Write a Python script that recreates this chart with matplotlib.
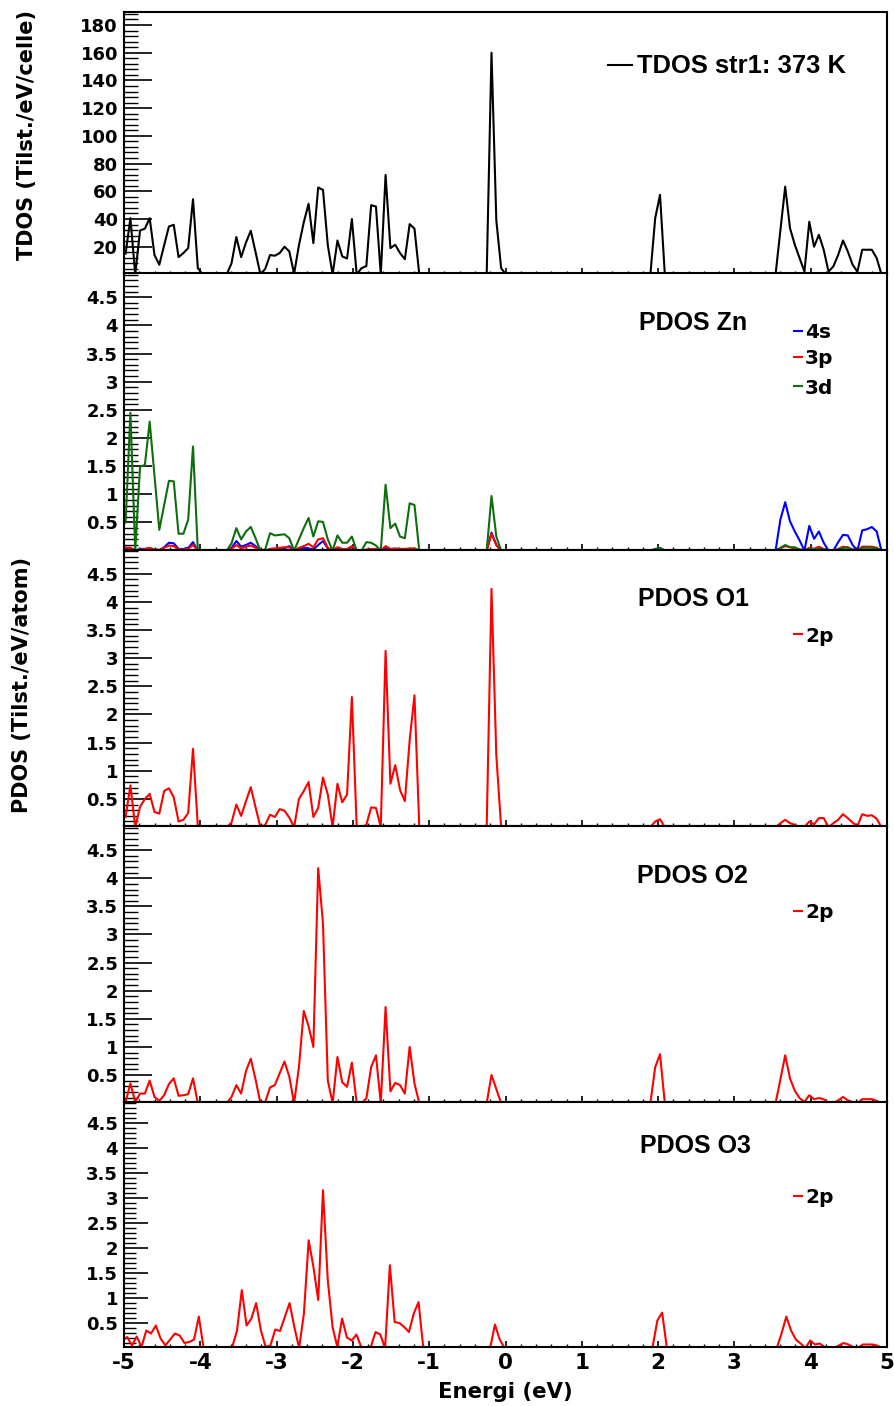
import numpy as np
import matplotlib
matplotlib.use("Agg")
import matplotlib.pyplot as plt
from matplotlib.lines import Line2D
from matplotlib.ticker import MultipleLocator, FixedLocator, FuncFormatter

plt.rcParams['axes.unicode_minus'] = False

# ---------------- data ----------------
# energy grid of the calculation (eV); O3 was written on a slightly different grid
E0_main, dE_main, n_main = -4.979, 0.0631, 158
E0_o3, dE_o3, n_o3 = -5.021, 0.0626, 161
energy = np.round(E0_main + dE_main * np.arange(n_main), 4)
energy_o3 = np.round(E0_o3 + dE_o3 * np.arange(n_o3), 4)

tdos = [15, 40.6, 0, 31.7, 33, 40.6, 14, 7, 21, 34.6,
        35.8, 12.5, 15.4, 19, 54.3, 4.6, 0, 0, 0, 0,
        0, 0, 8, 27, 12.5, 23, 31.5, 16, 0, 4,
        14, 13.5, 15.4, 20, 16.6, 0.5, 21, 37.5, 51, 22.6,
        62.7, 61, 21, 0, 24.5, 13, 11.5, 40, 0, 4.5,
        6, 50, 49, 0, 71.8, 19, 21.4, 15.4, 11, 36.3,
        33, 0, 0, 0, 0, 0, 0, 0, 0, 0,
        0, 0, 0, 0, 0, 0, 160, 39, 4.5, 0,
        0, 0, 0, 0, 0, 0, 0, 0, 0, 0,
        0, 0, 0, 0, 0, 0, 0, 0, 0, 0,
        0, 0, 0, 0, 0, 0, 0, 0, 0, 0,
        40.6, 57.4, 0, 0, 0, 0, 0, 0, 0, 0,
        0, 0, 0, 0, 0, 0, 0, 0, 0, 0,
        0, 0, 0, 0, 0, 0, 32, 63.4, 33.4, 21.4,
        11.8, 2, 38, 20, 28.6, 17.8, 2, 5.8, 14, 24.5,
        16.6, 7, 2, 17.8, 17.8, 17.8, 11.8, 0]

zn_4s = [0.05, 0.05, 0, 0.03, 0.03, 0.04, 0.02, 0.01, 0.06, 0.14,
         0.13, 0.03, 0.03, 0.05, 0.15, 0, 0, 0, 0, 0,
         0, 0, 0.05, 0.17, 0.07, 0.1, 0.14, 0.08, 0, 0,
         0.02, 0.02, 0.03, 0.04, 0.08, 0, 0.03, 0.05, 0.04, 0.02,
         0.1, 0.17, 0.04, 0, 0.05, 0.02, 0.02, 0.06, 0, 0,
         0.01, 0.02, 0.02, 0, 0.05, 0.02, 0.03, 0.02, 0.02, 0.03,
         0.03, 0, 0, 0, 0, 0, 0, 0, 0, 0,
         0, 0, 0, 0, 0, 0, 0.32, 0.1, 0, 0,
         0, 0, 0, 0, 0, 0, 0, 0, 0, 0,
         0, 0, 0, 0, 0, 0, 0, 0, 0, 0,
         0, 0, 0, 0, 0, 0, 0, 0, 0, 0,
         0.02, 0.04, 0, 0, 0, 0, 0, 0, 0, 0,
         0, 0, 0, 0, 0, 0, 0, 0, 0, 0,
         0, 0, 0, 0, 0, 0, 0.55, 0.86, 0.52, 0.34,
         0.18, 0, 0.44, 0.21, 0.34, 0.14, 0, 0, 0.15, 0.28,
         0.27, 0.1, 0, 0.36, 0.38, 0.42, 0.34, 0]

zn_3p = [0.05, 0.05, 0, 0.02, 0.03, 0.05, 0.02, 0.01, 0.05, 0.09,
         0.08, 0.02, 0.02, 0.03, 0.1, 0, 0, 0, 0, 0,
         0, 0, 0.03, 0.1, 0.04, 0.07, 0.09, 0.05, 0, 0,
         0.03, 0.04, 0.05, 0.06, 0.06, 0, 0.05, 0.08, 0.12, 0.06,
         0.2, 0.22, 0.05, 0, 0.06, 0.03, 0.03, 0.08, 0, 0,
         0.02, 0.03, 0.03, 0, 0.08, 0.03, 0.04, 0.03, 0.03, 0.04,
         0.04, 0, 0, 0, 0, 0, 0, 0, 0, 0,
         0, 0, 0, 0, 0, 0, 0.3, 0.1, 0, 0,
         0, 0, 0, 0, 0, 0, 0, 0, 0, 0,
         0, 0, 0, 0, 0, 0, 0, 0, 0, 0,
         0, 0, 0, 0, 0, 0, 0, 0, 0, 0,
         0.02, 0.03, 0, 0, 0, 0, 0, 0, 0, 0,
         0, 0, 0, 0, 0, 0, 0, 0, 0, 0,
         0, 0, 0, 0, 0, 0, 0.04, 0.08, 0.06, 0.04,
         0.02, 0, 0.05, 0.03, 0.07, 0.03, 0, 0, 0.03, 0.07,
         0.06, 0.02, 0, 0.07, 0.07, 0.07, 0.05, 0]

zn_3d = [0.5, 2.45, 0, 1.49, 1.52, 2.29, 1.33, 0.37, 0.8, 1.24,
         1.23, 0.3, 0.3, 0.55, 1.85, 0, 0, 0, 0, 0,
         0, 0, 0.13, 0.4, 0.2, 0.34, 0.42, 0.22, 0, 0.02,
         0.31, 0.27, 0.28, 0.29, 0.22, 0, 0.2, 0.4, 0.58, 0.25,
         0.52, 0.51, 0.2, 0, 0.27, 0.14, 0.14, 0.25, 0, 0,
         0.15, 0.14, 0.09, 0, 1.17, 0.4, 0.48, 0.25, 0.22, 0.84,
         0.81, 0, 0, 0, 0, 0, 0, 0, 0, 0,
         0, 0, 0, 0, 0, 0, 0.97, 0.25, 0, 0,
         0, 0, 0, 0, 0, 0, 0, 0, 0, 0,
         0, 0, 0, 0, 0, 0, 0, 0, 0, 0,
         0, 0, 0, 0, 0, 0, 0, 0, 0, 0,
         0.03, 0.05, 0, 0, 0, 0, 0, 0, 0, 0,
         0, 0, 0, 0, 0, 0, 0, 0, 0, 0,
         0, 0, 0, 0, 0, 0, 0.05, 0.1, 0.06, 0.06,
         0.02, 0, 0.03, 0.02, 0.04, 0.02, 0, 0, 0.02, 0.05,
         0.05, 0.02, 0, 0.05, 0.05, 0.05, 0.04, 0]

o1_2p = [0.18, 0.74, 0, 0.36, 0.5, 0.59, 0.27, 0.24, 0.64, 0.69,
         0.53, 0.1, 0.13, 0.25, 1.39, 0.02, 0, 0, 0, 0,
         0, 0, 0.08, 0.4, 0.2, 0.46, 0.71, 0.35, 0, 0.04,
         0.22, 0.18, 0.32, 0.29, 0.17, 0, 0.5, 0.64, 0.8, 0.18,
         0.34, 0.88, 0.58, 0, 0.77, 0.44, 0.58, 2.31, 0, 0,
         0.04, 0.35, 0.34, 0, 3.13, 0.77, 1.1, 0.66, 0.46, 1.54,
         2.34, 0, 0, 0, 0, 0, 0, 0, 0, 0,
         0, 0, 0, 0, 0, 0, 4.23, 1.27, 0, 0,
         0, 0, 0, 0, 0, 0, 0, 0, 0, 0,
         0, 0, 0, 0, 0, 0, 0, 0, 0, 0,
         0, 0, 0, 0, 0, 0, 0, 0, 0, 0,
         0.1, 0.14, 0, 0, 0, 0, 0, 0, 0, 0,
         0, 0, 0, 0, 0, 0, 0, 0, 0, 0,
         0, 0, 0, 0, 0, 0, 0.07, 0.13, 0.07, 0.04,
         0, 0, 0.1, 0.05, 0.16, 0.16, 0, 0.07, 0.13, 0.23,
         0.16, 0.08, 0.02, 0.23, 0.2, 0.21, 0.15, 0]

o2_2p = [0.02, 0.35, 0.02, 0.17, 0.17, 0.4, 0.11, 0.04, 0.14, 0.34,
         0.44, 0.13, 0.14, 0.16, 0.44, 0, 0, 0, 0, 0,
         0, 0, 0.11, 0.32, 0.17, 0.57, 0.79, 0.42, 0, 0.02,
         0.28, 0.32, 0.53, 0.74, 0.47, 0, 0.64, 1.64, 1.37, 1.0,
         4.18, 3.19, 0.4, 0, 0.82, 0.37, 0.29, 0.72, 0, 0,
         0.08, 0.64, 0.85, 0, 1.71, 0.21, 0.36, 0.32, 0.17, 1.0,
         0.35, 0, 0, 0, 0, 0, 0, 0, 0, 0,
         0, 0, 0, 0, 0, 0, 0.5, 0.25, 0, 0,
         0, 0, 0, 0, 0, 0, 0, 0, 0, 0,
         0, 0, 0, 0, 0, 0, 0, 0, 0, 0,
         0, 0, 0, 0, 0, 0, 0, 0, 0, 0,
         0.64, 0.87, 0, 0, 0, 0, 0, 0, 0, 0,
         0, 0, 0, 0, 0, 0, 0, 0, 0, 0,
         0, 0, 0, 0, 0, 0, 0.42, 0.85, 0.44, 0.22,
         0.09, 0.02, 0.14, 0.07, 0.09, 0.07, 0, 0, 0.05, 0.11,
         0.05, 0.02, 0, 0.07, 0.07, 0.07, 0.04, 0]

o3_2p = [0.15, 0.22, 0.05, 0.23, 0.02, 0.35, 0.29, 0.45, 0.19, 0.05,
         0.17, 0.29, 0.25, 0.1, 0.12, 0.17, 0.63, 0, 0, 0,
         0, 0, 0, 0.02, 0.35, 1.16, 0.45, 0.59, 0.9, 0.35,
         0.02, 0.05, 0.37, 0.34, 0.62, 0.9, 0.42, 0, 0.69, 2.16,
         1.62, 0.96, 3.16, 1.36, 0.42, 0.02, 0.59, 0.21, 0.15, 0.27,
         0.02, 0, 0.02, 0.32, 0.27, 0, 1.66, 0.52, 0.5, 0.42,
         0.32, 0.69, 0.92, 0, 0, 0, 0, 0, 0, 0,
         0, 0, 0, 0, 0, 0, 0, 0, 0.47, 0.17,
         0, 0, 0, 0, 0, 0, 0, 0, 0, 0,
         0, 0, 0, 0, 0, 0, 0, 0, 0, 0,
         0, 0, 0, 0, 0, 0, 0, 0, 0, 0,
         0, 0.02, 0.55, 0.71, 0, 0, 0, 0, 0, 0,
         0, 0, 0, 0, 0, 0, 0, 0, 0, 0,
         0, 0, 0, 0, 0, 0, 0, 0, 0.29, 0.63,
         0.35, 0.17, 0.09, 0, 0.15, 0.07, 0.09, 0.02, 0, 0,
         0.05, 0.1, 0.07, 0.02, 0, 0.07, 0.07, 0.07, 0.05, 0,
         0]

tdos_ticks = [20, 40, 60, 80, 100, 120, 140, 160, 180]
pdos_ticks = [0.5, 1, 1.5, 2, 2.5, 3, 3.5, 4, 4.5]
x_ticks = [-5, -4, -3, -2, -1, 0, 1, 2, 3, 4, 5]

panel_titles = ["PDOS Zn", "PDOS O1", "PDOS O2", "PDOS O3"]

# ---------------- figure ----------------
W, H = 894, 1406
fig = plt.figure(figsize=(W / 100, H / 100), dpi=100)
fig.patch.set_facecolor('white')


def fx(px):
    return px / W


def fy(py):
    return 1 - py / H


LEFT, RIGHT = 124, 887
bounds = [(12, 274), (273, 549.5), (549.5, 826), (826, 1102), (1102, 1347)]
axes = []
for top, bot in bounds:
    ax = fig.add_axes([fx(LEFT), fy(bot), (RIGHT - LEFT) / W, (bot - top) / H])
    axes.append(ax)

GREEN = '#0e6e0e'
LW = 1.5

axes[0].plot(energy, tdos, color='black', lw=LW)
axes[1].plot(energy, zn_4s, color='blue', lw=LW)
axes[1].plot(energy, zn_3p, color='red', lw=LW)
axes[1].plot(energy, zn_3d, color=GREEN, lw=LW)
axes[2].plot(energy, o1_2p, color='red', lw=LW)
axes[3].plot(energy, o2_2p, color='red', lw=LW)
axes[4].plot(energy_o3, o3_2p, color='red', lw=LW)

fmt = FuncFormatter(lambda v, p: '%g' % v)
tick_font_y = dict(family='DejaVu Sans', weight='bold', size=13)
tick_font_x = dict(family='DejaVu Sans', weight='bold', size=15.5)

for n, ax in enumerate(axes):
    ax.set_xlim(-5, 5)
    for sp in ax.spines.values():
        sp.set_linewidth(1.5)
        sp.set_color('black')
    ax.xaxis.set_major_locator(FixedLocator(x_ticks))
    ax.xaxis.set_minor_locator(MultipleLocator(0.2))
    ax.tick_params(axis='x', which='major', direction='in', length=4.3, width=1.2,
                   top=False, bottom=True, pad=4)
    ax.tick_params(axis='x', which='minor', direction='in', length=2.4, width=1.0,
                   top=False, bottom=True)
    ylen = 17 if n == 4 else 20
    ax.tick_params(axis='y', which='major', direction='in', length=ylen, width=1.2,
                   left=True, right=False, pad=4.3)
    ax.tick_params(axis='y', which='minor', direction='in', length=ylen / 2, width=1.0,
                   left=True, right=False)
    if n == 0:
        ax.set_ylim(0.3, 189.4)
        ax.yaxis.set_major_locator(FixedLocator(tdos_ticks))
        ax.yaxis.set_minor_locator(MultipleLocator(4))
    else:
        ax.set_ylim(0.02, 4.93)
        ax.yaxis.set_major_locator(FixedLocator(pdos_ticks))
        ax.yaxis.set_minor_locator(MultipleLocator(0.1))
    ax.yaxis.set_major_formatter(fmt)
    ax.xaxis.set_major_formatter(fmt)
    for lab in ax.get_yticklabels():
        lab.set_fontproperties(matplotlib.font_manager.FontProperties(**tick_font_y))
    if n < 4:
        ax.tick_params(axis='x', labelbottom=False)
    else:
        for lab in ax.get_xticklabels():
            lab.set_fontproperties(matplotlib.font_manager.FontProperties(**tick_font_x))

# axis titles
fig.text(fx(27), fy(135), 'TDOS (Tilst./eV/celle)', rotation=90, ha='center', va='center',
         family='DejaVu Sans', weight='bold', size=15)
fig.text(fx(22), fy(685), 'PDOS (Tilst./eV/atom)', rotation=90, ha='center', va='center',
         family='DejaVu Sans', weight='bold', size=15)
fig.text(fx(505), fy(1398), 'Energi (eV)', ha='center', va='baseline',
         family='DejaVu Sans', weight='bold', size=15.3)

# TDOS legend
fig.add_artist(Line2D([fx(608), fx(632)], [fy(65), fy(65)], transform=fig.transFigure,
                      color='black', lw=LW))
fig.text(fx(637), fy(73), 'TDOS str1: 373 K', ha='left', va='baseline',
         family='Liberation Sans', weight='bold', size=18.4)

# panel titles
title_pos = [(693, 329.5), (693, 606), (692, 882.7), (695.5, 1153)]
for (x, y), t in zip(title_pos, panel_titles):
    fig.text(fx(x), fy(y), t, ha='center', va='baseline',
             family='Liberation Sans', weight='bold', size=18)

# orbital entries
entries = [("4s", 'blue', 331, 338.5), ("3p", 'red', 357, 364), ("3d", GREEN, 386, 393.5),
           ("2p", 'red', 634, 641.5), ("2p", 'red', 911, 918), ("2p", 'red', 1196, 1203)]
for lab, col, ydash, ybase in entries:
    fig.add_artist(Line2D([fx(794), fx(802)], [fy(ydash), fy(ydash)],
                          transform=fig.transFigure, color=col, lw=LW))
    fig.text(fx(805), fy(ybase), lab, ha='left', va='baseline',
             family='DejaVu Sans', weight='bold', size=14.5)

fig.savefig('out.png', dpi=100, facecolor='white')
